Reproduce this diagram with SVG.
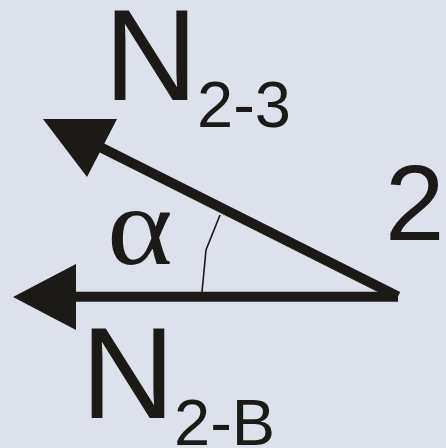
<svg xmlns="http://www.w3.org/2000/svg" width="446" height="448" viewBox="0 0 446 448">
  <style>
    .bar { stroke: #1c1a17; stroke-width: 10; fill: none; }
    .head { fill: #1c1a17; }
    .arc { stroke: #1c1a17; stroke-width: 1.6; fill: none; }
    .sans { font-family: "Liberation Sans", Arial, sans-serif; fill: #1c1a17; }
    .serif { font-family: "Liberation Serif", "Times New Roman", serif; fill: #1c1a17; }
  </style>
  <rect x="0" y="0" width="446" height="448" fill="#dde1eb"/>
  <g id="connectors">
    <line class="bar" x1="100" y1="147" x2="398" y2="296.5"/>
    <polygon class="head" points="43,119 117,119 87,177"/>
    <line class="bar" x1="74" y1="296.7" x2="398" y2="296.7"/>
    <polygon class="head" points="13,297 76,264 76,330"/>
    <polyline class="arc" points="220,215 206,250 202,292"/>
  </g>
  <g id="label-N23">
    <text class="sans" x="104" y="100" font-size="130">N</text>
    <text class="sans" x="197" y="126.5" font-size="65">2-3</text>
  </g>
  <g id="label-NB">
    <text class="sans" x="81" y="418" font-size="130">N</text>
    <text class="sans" x="174" y="445" font-size="65">2-B</text>
  </g>
  <g id="label-alpha">
    <text class="serif" x="107" y="264" font-size="112" transform="translate(107 264) scale(1.12 1) translate(-107 -264)">α</text>
  </g>
  <g id="label-2">
    <text class="sans" x="385" y="240" font-size="107">2</text>
  </g>
</svg>
